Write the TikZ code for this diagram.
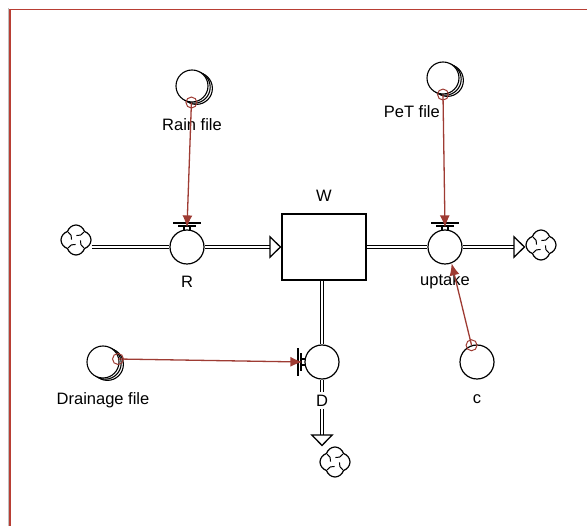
\documentclass[tikz,border=0pt]{standalone}
\usepackage{fontspec}
\setmainfont{Liberation Sans}
\usetikzlibrary{
  positioning,
  arrows.meta,
  shapes.symbols,
  shadows,
  backgrounds,
  calc
}
\definecolor{framered}{RGB}{184,62,52}
\definecolor{linkred}{RGB}{158,59,51}
\tikzset{
  stockbox/.style={
    draw, fill=white, line width=1.2pt,
    minimum width=84pt, minimum height=66pt
  },
  valvenode/.style={
    draw, fill=white, circle, line width=1.2pt,
    minimum size=34pt, inner sep=0pt
  },
  filenode/.style={
    draw, fill=white, circle, line width=1.1pt,
    minimum size=32pt, inner sep=0pt,
    double copy shadow={shadow xshift=2.2pt, shadow yshift=-1.2pt}
  },
  convnode/.style={
    draw, fill=white, circle, line width=1.2pt,
    minimum size=34pt, inner sep=0pt
  },
  ghostnode/.style={
    draw=linkred, circle, line width=1pt,
    minimum size=11pt, inner sep=0pt
  },
  cloudnode/.style={
    draw, fill=white, cloud, cloud puffs=4, aspect=1,
    line width=1.2pt, minimum size=30pt, inner sep=0pt,
    path picture={
      \foreach \a in {45,135,225,315}{
        \draw[line width=1pt] ($(path picture bounding box.center)+(\a:11pt)$)
          to[bend left=35] ($(path picture bounding box.center)+(\a+40:4.5pt)$);
      }
    }
  },
  pipe/.style={
    draw, line width=1.1pt, double=white, double distance=2.6pt
  },
  flowarrow/.style={
    pipe, -{Triangle[open, length=12pt, width=23pt, line width=1.3pt]}
  },
  link/.style={
    draw=linkred, line width=1.3pt,
    -{Latex[length=12pt, width=10pt]}
  },
  lbl/.style={
    font=\fontsize{16.5}{19}\selectfont, inner sep=1pt
  }
}
% bar of a valve, #1 = valve node, #2 = turn
\newcommand{\valvebar}[2]{
  \begin{scope}[shift={(#1.center)}, rotate=#2, line width=1.1pt]
    \draw (-14pt,24pt) -- (14pt,24pt);
    \draw (-9pt,21pt) -- (9pt,21pt);
    \draw (-3pt,21pt) -- (-3pt,16.5pt) (3pt,21pt) -- (3pt,16.5pt);
  \end{scope}
}

\begin{document}
\begin{tikzpicture}[x=1pt, y=-1pt]
  \useasboundingbox (0,0) rectangle (587,526);
  \draw[black!25, line width=0.8pt] (8,526) -- (8,8);
  \draw[framered, line width=1.3pt] (10,526) -- (10,9.5) -- (587,9.5);

  % stock and flows
  \node[stockbox] (W) at (324,247) {};
  \node[lbl, above=11pt of W] (Wlbl) {W};
  \node[valvenode] (R) at (187,247) {};
  \node[lbl, below=10pt of R] (Rlbl) {R};
  \node[valvenode] (uptake) at (445,247) {};
  \node[lbl, below=8pt of uptake] (uptakelbl) {uptake};
  \node[valvenode] (D) at (322,362) {};
  \node[cloudnode] (cloudL) at (76,240) {};
  \node[cloudnode] (cloudR) at (541,245) {};
  \node[cloudnode] (cloudB) at (335,462) {};

  % converters
  \node[filenode] (rain) at (192,86) {};
  \node[lbl, below=15pt of rain] (rainlbl) {Rain file};
  \node[filenode] (pet) at (443,78) {};
  \node[lbl, anchor=north east] (petlbl) at (441,104) {PeT file};
  \node[filenode] (drain) at (103,362) {};
  \node[lbl, below=13pt of drain] (drainlbl) {Drainage file};
  \node[convnode] (c) at (477,362) {};
  \node[lbl, below=14pt of c] (clbl) {c};

  \node[ghostnode] (rainghost) at (rain.-92) {};
  \node[ghostnode] (petghost) at (pet.south) {};
  \node[ghostnode] (drainghost) at ($(drain.center)+(15pt,3pt)$) {};
  \node[ghostnode] (cghost) at (c.108) {};

  \begin{scope}[on background layer]
    \draw[pipe] (cloudL.east |- R) -- (R);
    \draw[flowarrow] (R.east) -- (W.west |- R);
    \draw[pipe] (W.east |- uptake) -- (uptake);
    \draw[flowarrow] (uptake.east) -- (cloudR.west |- uptake);
    \draw[pipe] (W.south -| D) -- (D);
    \draw[flowarrow] (D.south) -- (D |- cloudB.north);
  \end{scope}
  \node[lbl, fill=white, inner ysep=3pt, below=12pt of D] (Dlbl) {D};

  \valvebar{R}{0}
  \valvebar{uptake}{0}
  \valvebar{D}{90}

  % links
  \draw[link] (rainghost.center) -- ([yshift=2pt]R.north);
  \draw[link] (petghost.center) -- ([yshift=2pt]uptake.north);
  \draw[link] (cghost.center) -- (uptake.-68);
  \draw[link] (drainghost.center) -- ([xshift=-2pt]D.west);
\end{tikzpicture}
\end{document}
